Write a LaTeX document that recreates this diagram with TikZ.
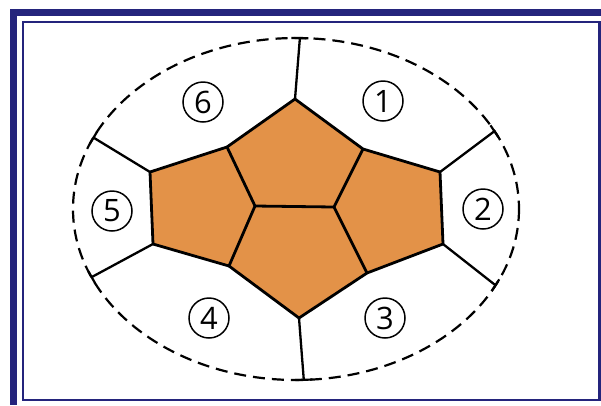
\documentclass[tikz,border=0pt]{standalone}
\usepackage{fontspec}
\setmainfont{Open Sans}
\usetikzlibrary{calc}
\definecolor{navy}{RGB}{36,36,124}
\definecolor{cell}{RGB}{227,146,72}
\begin{document}
\begin{tikzpicture}[x=1bp,y=-1bp,
  edge/.style={line width=2.8bp,line join=round,line cap=round},
  spoke/.style={line width=2.3bp,line cap=round},
  rim/.style={line width=2.2bp,dash pattern=on 12bp off 7bp},
  tickmark/.style={line width=2.2bp},
  num/.style={circle,draw,line width=1.5bp,minimum size=40bp,inner sep=0pt,
    font=\fontsize{31}{31}\selectfont}]
\useasboundingbox (0,0) rectangle (601,405);
\fill[white] (0,0) rectangle (601,405);
% frame
\fill[navy] (10,8.5) rectangle (601,15.5);
\fill[navy] (10,8.5) rectangle (16.5,405);
\draw[navy,line width=2.5bp] (23.2,22) rectangle (599.5,400);
% vertices
\coordinate (c) at (296,209);
\coordinate (T) at (295,99);
\coordinate (TR) at (363,149);
\coordinate (CR) at (334,207);
\coordinate (CL) at (255,206);
\coordinate (TL) at (227,147);
\coordinate (LU) at (150,172);
\coordinate (LD) at (153,244);
\coordinate (LB) at (229,266);
\coordinate (B) at (299,318);
\coordinate (RB) at (367,273);
\coordinate (RD) at (443,244);
\coordinate (RU) at (440,172);
% rim points
\coordinate (eT) at ($(c)+(-89:223 and 171)$);
\coordinate (eUR) at ($(c)+(-27.1:223 and 171)$);
\coordinate (eLR) at ($(c)+(26.5:223 and 171)$);
\coordinate (eB) at ($(c)+(88:223 and 171)$);
\coordinate (eLL) at ($(c)+(156.5:223 and 171)$);
\coordinate (eUL) at ($(c)+(-155.3:223 and 171)$);
% orange fill
\fill[cell] (T) -- (TR) -- (RU) -- (RD) -- (RB) -- (B) -- (LB) -- (LD) -- (LU) -- (TL) -- cycle;
% dashed rim
\draw[rim] (c) ellipse [x radius=223, y radius=171];
% ticks
\foreach \t in {-89,-27.1,26.5,88,156.5,-155.3}{
  \draw[tickmark] ($(c)+(\t-2.2:223 and 171)$) -- ($(c)+(\t+2.2:223 and 171)$);
}
% spokes
\draw[spoke] (T) -- (eT);
\draw[spoke] (RU) -- (eUR);
\draw[spoke] (RD) -- (eLR);
\draw[spoke] (B) -- (eB);
\draw[spoke] (LD) -- (eLL);
\draw[spoke] (LU) -- (eUL);
% pentagon edges
\draw[edge] (T) -- (TR) -- (RU) -- (RD) -- (RB) -- (B) -- (LB) -- (LD) -- (LU) -- (TL) -- cycle;
\draw[edge] (TL) -- (CL) -- (CR) -- (TR);
\draw[edge] (CL) -- (LB);
\draw[edge] (CR) -- (RB);
% labels
\node[num] (n1) at (383,101) {1};
\node[num] (n2) at (483,209) {2};
\node[num] (n3) at (385,318) {3};
\node[num] (n4) at (209,318) {4};
\node[num] (n5) at (112,211) {5};
\node[num] (n6) at (203,102) {6};
\end{tikzpicture}
\end{document}
